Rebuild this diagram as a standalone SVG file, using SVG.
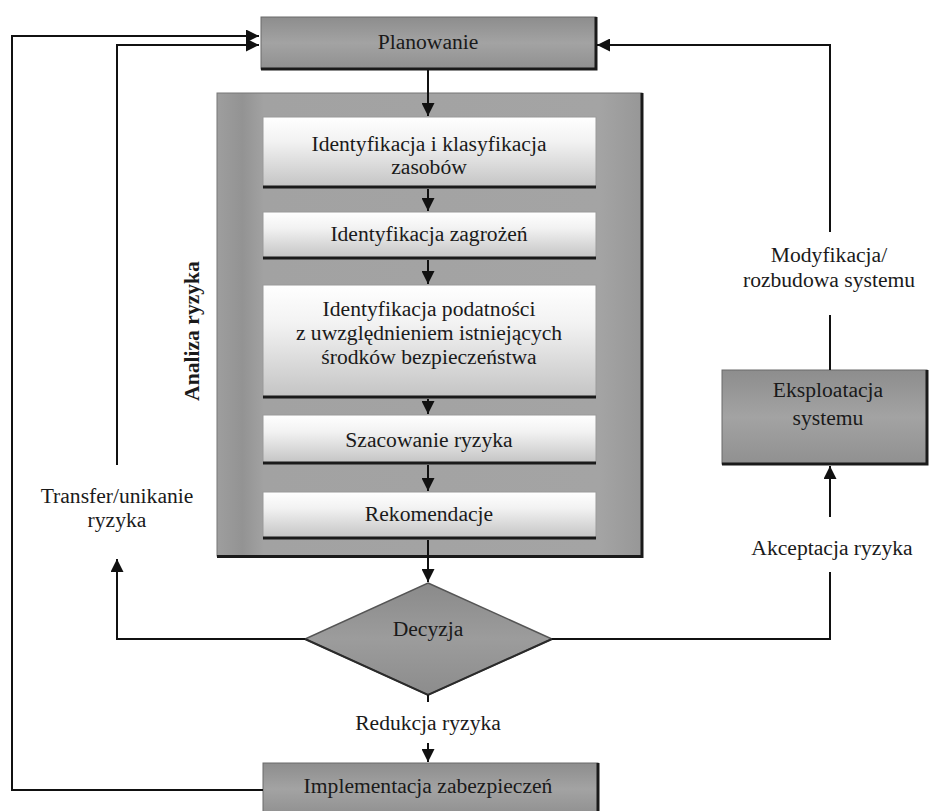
<svg xmlns="http://www.w3.org/2000/svg" width="933" height="811" viewBox="0 0 933 811">
<style>
text{font-family:'Liberation Serif','Tinos','DejaVu Serif',serif;font-size:21.6px;fill:#1a1a1a;text-anchor:middle}
.b{font-weight:bold}
.ln{fill:none;stroke:#111;stroke-width:2}
.edge{fill:none;stroke:#1a1a1a;stroke-width:3}
.gbox{fill:url(#gGray);stroke:#6a6a6a;stroke-width:1}
.wbox{fill:url(#gWhite);stroke:#9a9a9a;stroke-width:1}
</style>
<defs>
<linearGradient id="gGray" x1="0" y1="0" x2="0" y2="1">
<stop offset="0" stop-color="#8d8d8d"/>
<stop offset="0.5" stop-color="#a3a3a3"/>
<stop offset="1" stop-color="#909090"/>
</linearGradient>
<linearGradient id="gWhite" x1="0" y1="0" x2="0" y2="1">
<stop offset="0" stop-color="#ffffff"/>
<stop offset="0.35" stop-color="#f2f2f2"/>
<stop offset="1" stop-color="#c4c4c4"/>
</linearGradient>
<linearGradient id="gCont" x1="0" y1="0" x2="1" y2="0">
<stop offset="0" stop-color="#9e9e9e"/>
<stop offset="0.06" stop-color="#939393"/>
<stop offset="0.11" stop-color="#a2a2a2"/>
<stop offset="0.9" stop-color="#a4a4a4"/>
<stop offset="1" stop-color="#979797"/>
</linearGradient>
<linearGradient id="gDia" x1="0" y1="0" x2="0" y2="1">
<stop offset="0" stop-color="#8a8a8a"/>
<stop offset="0.5" stop-color="#9c9c9c"/>
<stop offset="1" stop-color="#8c8c8c"/>
</linearGradient>
<marker id="ah" viewBox="0 0 10 10" refX="10" refY="5" markerWidth="6.5" markerHeight="6.5" markerUnits="strokeWidth" orient="auto">
<path d="M0,0 L10,5 L0,10 z" fill="#111"/>
</marker>
</defs>

<g id="analiza-ryzyka">
<rect x="217" y="93" width="425" height="463" fill="url(#gCont)" stroke="#777" stroke-width="1"/>
<path class="edge" d="M217,556.5 H642 V93"/>
<text class="b" transform="translate(199,331) rotate(-90)">Analiza ryzyka</text>
</g>

<g id="planowanie">
<rect class="gbox" x="261" y="17" width="335" height="52"/>
<path class="edge" d="M261,69 H596 V17"/>
<text x="428" y="49">Planowanie</text>
</g>

<g id="identyfikacja-zasobow">
<rect class="wbox" x="263" y="117" width="333" height="70"/>
<path class="edge" d="M263,187 H596"/>
<text x="429" y="151">Identyfikacja i klasyfikacja</text>
<text x="429" y="174">zasobów</text>
</g>

<g id="identyfikacja-zagrozen">
<rect class="wbox" x="263" y="212" width="333" height="46"/>
<path class="edge" d="M263,258 H596"/>
<text x="429" y="241">Identyfikacja zagrożeń</text>
</g>

<g id="identyfikacja-podatnosci">
<rect class="wbox" x="263" y="285" width="333" height="112"/>
<path class="edge" d="M263,397 H596"/>
<text x="429" y="316">Identyfikacja podatności</text>
<text x="429" y="340">z uwzględnieniem istniejących</text>
<text x="429" y="364">środków bezpieczeństwa</text>
</g>

<g id="szacowanie-ryzyka">
<rect class="wbox" x="263" y="415" width="333" height="48"/>
<path class="edge" d="M263,463 H596"/>
<text x="429" y="447">Szacowanie ryzyka</text>
</g>

<g id="rekomendacje">
<rect class="wbox" x="263" y="492" width="333" height="46"/>
<path class="edge" d="M263,538 H596"/>
<text x="429" y="521">Rekomendacje</text>
</g>

<g id="decyzja">
<path d="M428,583 L552,639 L428,695 L305,639 z" fill="url(#gDia)" stroke="#555" stroke-width="1.5"/>
<path d="M552,639 L428,695 L305,639" fill="none" stroke="#2a2a2a" stroke-width="2"/>
<text x="428" y="636">Decyzja</text>
</g>

<g id="eksploatacja">
<rect class="gbox" x="722" y="370" width="205" height="94"/>
<path class="edge" d="M722,464 H927 V370"/>
<text x="828" y="397">Eksploatacja</text>
<text x="828" y="425">systemu</text>
</g>

<g id="implementacja">
<rect class="gbox" x="263" y="763" width="335" height="52"/>
<path class="edge" d="M598,763 V811"/>
<text x="428" y="793">Implementacja zabezpieczeń</text>
</g>

<g id="connectors">
<path class="ln" d="M428,70 V116" marker-end="url(#ah)"/>
<path class="ln" d="M428,189 V211" marker-end="url(#ah)"/>
<path class="ln" d="M428,260 V284" marker-end="url(#ah)"/>
<path class="ln" d="M428,399 V414" marker-end="url(#ah)"/>
<path class="ln" d="M428,465 V491" marker-end="url(#ah)"/>
<path class="ln" d="M428,540 V582" marker-end="url(#ah)"/>
<path class="ln" d="M305,639 H117 V559" marker-end="url(#ah)"/>
<path class="ln" d="M117,465 V45 H259" marker-end="url(#ah)"/>
<path class="ln" d="M552,639 H830 V572"/>
<path class="ln" d="M830,517 V466" marker-end="url(#ah)"/>
<path class="ln" d="M830,370 V315"/>
<path class="ln" d="M830,232 V45 H597" marker-end="url(#ah)"/>
<path class="ln" d="M428,695 V702"/>
<path class="ln" d="M428,743 V762" marker-end="url(#ah)"/>
<path class="ln" d="M263,790 H12 V36 H259" marker-end="url(#ah)"/>
</g>

<g id="labels">
<text x="117" y="503">Transfer/unikanie</text>
<text x="117" y="527">ryzyka</text>
<text x="829" y="262">Modyfikacja/</text>
<text x="829" y="287">rozbudowa systemu</text>
<text x="832" y="555">Akceptacja ryzyka</text>
<text x="428" y="730">Redukcja ryzyka</text>
</g>
</svg>
